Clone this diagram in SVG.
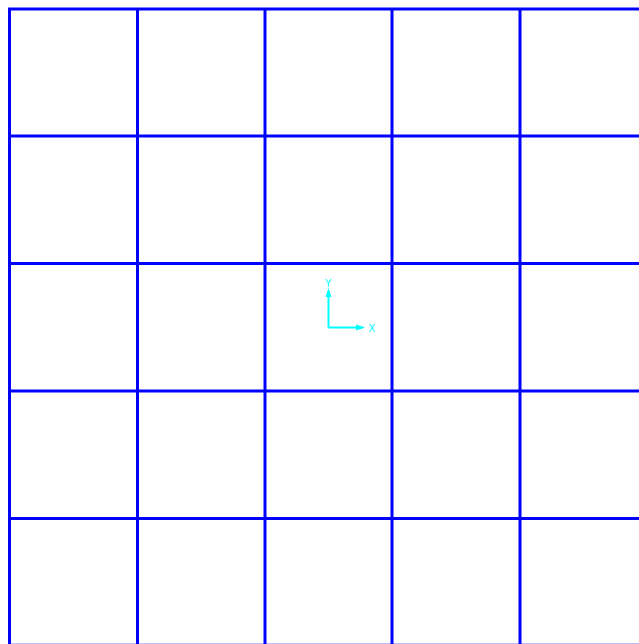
<svg xmlns="http://www.w3.org/2000/svg" width="639" height="644" viewBox="0 0 639 644">
<style>
.grid{stroke:#0000ff;stroke-width:3;fill:none}
.axis{stroke:#00ffff;stroke-width:2;fill:none}
.lbl{fill:#00ffff;font-family:"DejaVu Sans",sans-serif;font-size:10px;text-anchor:middle}
</style>
<rect width="639" height="644" fill="#ffffff"/>
<g id="grid">
<path class="grid" d="M9.5,8 V650 M137.5,8 V650 M265,8 V650 M392,8 V650 M520,8 V650 M8,9 H645 M8,136 H645 M8,263.5 H645 M8,391 H645 M8,518.5 H645 M8,645.2 H645"/>
</g>
<g id="axes">
<path class="axis" d="M328.5,327.5 V291 M328.5,327.5 H363"/>
<path d="M328.5,288 L325.5,297 L331.5,297 Z M365,327.5 L356,324.5 L356,330.5 Z" fill="#00ffff"/>
<text class="lbl" x="328" y="286.5">Y</text>
<text class="lbl" x="372" y="331.5">X</text>
</g>
</svg>
